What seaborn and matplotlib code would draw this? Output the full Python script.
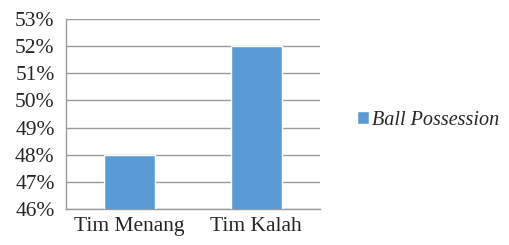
import matplotlib
matplotlib.use('Agg')
import matplotlib.pyplot as plt
import seaborn as sns
import pandas as pd
from matplotlib.patches import Patch

teams = ['Tim Menang', 'Tim Kalah']
possession = [48, 52]
series_name = 'Ball Possession'

sns.set_style('white')
plt.rcParams['font.family'] = ['Liberation Serif', 'DejaVu Serif']

df = pd.DataFrame({'team': teams, 'value': possession})

fig = plt.figure(figsize=(5.1, 2.45), dpi=100)
ax = fig.add_axes([0.129, 0.147, 0.498, 0.775])
sns.barplot(data=df, x='team', y='value', color='#5B9BD5', saturation=1,
            width=0.4, ax=ax, zorder=3)

ax.set_ylim(46, 53)
ax.set_xlim(-0.5, 1.5)
ax.set_yticks(range(46, 54))
ax.set_yticklabels([f'{v}%' for v in range(46, 54)], fontsize=15.5)
ax.set_xlabel('')
ax.set_ylabel('')
ax.tick_params(axis='x', which='major', length=0, labelsize=15.5, pad=6)
ax.set_xticks([-0.5, 0.5, 1.5], minor=True)
ax.tick_params(axis='x', which='minor', length=5, color='#9a9a9a', width=1)
ax.tick_params(axis='y', length=5, color='#9a9a9a', width=1, pad=3)
ax.yaxis.grid(True, color='#9a9a9a', linewidth=1, zorder=0)
ax.set_axisbelow(True)
for s in ['top', 'right']:
    ax.spines[s].set_visible(False)
for s in ['left', 'bottom']:
    ax.spines[s].set_color('#9a9a9a')
    ax.spines[s].set_linewidth(1)

handle = Patch(facecolor='#5B9BD5', label=series_name)
fig.legend(handles=[handle], loc='center left', bbox_to_anchor=(0.700, 0.51),
           frameon=False, prop={'style': 'italic', 'size': 14.5},
           borderpad=0, borderaxespad=0,
           handlelength=0.6, handleheight=0.6, handletextpad=0.15)

fig.savefig('out.png', dpi=100)
